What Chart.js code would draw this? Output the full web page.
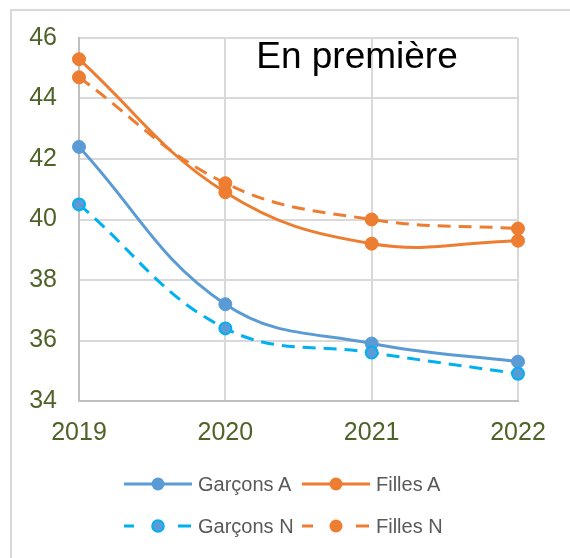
<!DOCTYPE html>
<html>
<head>
<meta charset="utf-8">
<script src="https://cdn.jsdelivr.net/npm/chart.js@4"></script>
<style>
  html, body { margin: 0; padding: 0; background: #fff; }
  body { width: 570px; height: 558px; position: relative; overflow: hidden; }
  #frame { position: absolute; left: 10px; top: 9px; width: 600px; height: 600px; border: 2px solid #d9d9d9; }
  #wrap { position: absolute; left: 0; top: 0; width: 570px; height: 558px; }
  .leg { position: absolute; display: flex; align-items: center; height: 20px;
         font-family: "Liberation Sans", Arial, sans-serif; font-size: 20px; color: #595959; }
  .leg svg { margin-right: 6px; }
</style>
</head>
<body>
<div id="frame"></div>
<div id="wrap"><canvas id="myChart" width="570" height="558"></canvas></div>

<div class="leg" style="left:124px; top:474px">
  <svg width="68" height="16"><line x1="0" y1="8" x2="68" y2="8" stroke="#5B9BD5" stroke-width="3"/><circle cx="34" cy="8" r="6.5" fill="#5B9BD5"/></svg>Garçons A
</div>
<div class="leg" style="left:302px; top:474px">
  <svg width="68" height="16"><line x1="0" y1="8" x2="68" y2="8" stroke="#ED7D31" stroke-width="3"/><circle cx="34" cy="8" r="6.5" fill="#ED7D31"/></svg>Filles A
</div>
<div class="leg" style="left:124px; top:516px">
  <svg width="68" height="16"><line x1="0" y1="8" x2="10" y2="8" stroke="#00B0F0" stroke-width="3"/><line x1="54" y1="8" x2="67" y2="8" stroke="#00B0F0" stroke-width="3"/><circle cx="34" cy="8" r="5.8" fill="#5B9BD5" stroke="#00B0F0" stroke-width="2"/></svg>Garçons N
</div>
<div class="leg" style="left:302px; top:516px">
  <svg width="68" height="16"><line x1="0" y1="8" x2="11" y2="8" stroke="#ED7D31" stroke-width="3"/><line x1="54" y1="8" x2="67" y2="8" stroke="#ED7D31" stroke-width="3"/><circle cx="34" cy="8" r="6.5" fill="#ED7D31"/></svg>Filles N
</div>

<script>
var years = ["2019", "2020", "2021", "2022"];
var garconsA = [42.4, 37.2, 35.9, 35.3];
var fillesA = [45.3, 40.9, 39.2, 39.3];
var garconsN = [40.5, 36.4, 35.6, 34.9];
var fillesN = [44.7, 41.2, 40.0, 39.7];
var yTicks = [34, 36, 38, 40, 42, 44, 46];

var tickColor = "#4F6228";
var font = "Liberation Sans";

// title sits inside the plot area, like in Excel
var insideTitle = {
  id: "insideTitle",
  afterDraw: function (chart) {
    var ctx = chart.ctx;
    ctx.save();
    ctx.font = "37px '" + font + "'";
    ctx.fillStyle = "#000";
    ctx.textAlign = "center";
    ctx.textBaseline = "alphabetic";
    ctx.fillText("En première", 357, 68);
    ctx.restore();
  }
};

new Chart("myChart", {
  type: "line",
  data: {
    labels: years,
    datasets: [
      {
        label: "Garçons A",
        data: garconsA,
        borderColor: "#5B9BD5",
        backgroundColor: "#5B9BD5",
        pointBorderColor: "#5B9BD5",
        order: 4
      },
      {
        label: "Filles A",
        data: fillesA,
        borderColor: "#ED7D31",
        backgroundColor: "#ED7D31",
        pointBorderColor: "#ED7D31",
        order: 3
      },
      {
        label: "Garçons N",
        data: garconsN,
        borderColor: "#00B0F0",
        backgroundColor: "#5B9BD5",
        pointBorderColor: "#00B0F0",
        pointBorderWidth: 2,
        pointRadius: 6,
        borderDash: [13, 8],
        order: 2
      },
      {
        label: "Filles N",
        data: fillesN,
        borderColor: "#ED7D31",
        backgroundColor: "#ED7D31",
        pointBorderColor: "#ED7D31",
        borderDash: [13, 8],
        order: 1
      }
    ]
  },
  options: {
    responsive: false,
    animation: false,
    layout: { padding: { top: 38, right: 52, left: 0, bottom: 0 } },
    elements: {
      line: { borderWidth: 3, tension: 0.4, fill: false },
      point: { radius: 6.5, borderWidth: 1 }
    },
    plugins: {
      legend: { display: false },
      tooltip: { enabled: false },
      title: { display: false }
    },
    scales: {
      x: {
        offset: false,
        grid: { color: "#d9d9d9", lineWidth: 2, drawTicks: false },
        border: { color: "#bfbfbf", width: 2 },
        ticks: { color: tickColor, font: { family: font, size: 25 }, padding: 17, maxRotation: 0 },
        afterFit: function (scale) { scale.height = 157; }
      },
      y: {
        min: 34,
        max: 46,
        afterBuildTicks: function (scale) {
          scale.ticks = yTicks.map(function (v) { return { value: v }; });
        },
        grid: { color: "#d9d9d9", lineWidth: 2, drawTicks: false },
        border: { color: "#bfbfbf", width: 2 },
        ticks: { color: tickColor, font: { family: font, size: 25 }, padding: 22 },
        afterFit: function (scale) { scale.width = 79; }
      }
    }
  },
  plugins: [insideTitle]
});
</script>
</body>
</html>
